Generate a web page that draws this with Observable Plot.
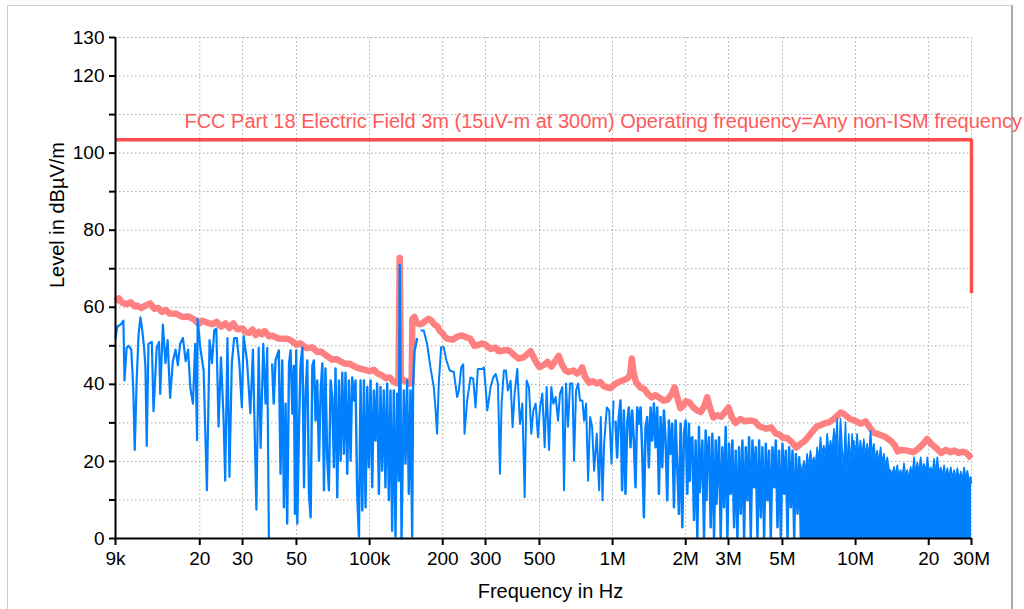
<!DOCTYPE html>
<html><head><meta charset="utf-8">
<script src="https://cdn.jsdelivr.net/npm/d3@7"></script>
<script src="https://cdn.jsdelivr.net/npm/@observablehq/plot@0.6"></script>
<style>
html,body{margin:0;padding:0;background:#fff;overflow:hidden;width:1024px;height:609px;}
#wrap{position:relative;width:1024px;height:609px;overflow:hidden;}
#frame{position:absolute;left:7px;top:5px;width:1003px;height:640px;border-left:1px solid #d0d0d0;border-top:1px solid #d0d0d0;border-right:2px solid #a8a8a8;}
#chart{position:absolute;left:0;top:0;}
</style></head>
<body><div id="wrap"><div id="frame"></div><div id="chart"></div></div>
<script>
// Frequencies in kHz, levels in dBµV/m
const xTickValues = [9, 20, 30, 50, 100, 200, 300, 500, 1000, 2000, 3000, 5000, 10000, 20000, 30000];
const xTickLabels = ["9k", "20", "30", "50", "100k", "200", "300", "500", "1M", "2M", "3M", "5M", "10M", "20", "30M"];
const yTickValues = [0, 10, 20, 30, 40, 50, 60, 70, 80, 90, 100, 110, 120, 130];
const yTickLabelled = [0, 20, 40, 60, 80, 100, 120, 130];

const limitTitle = "FCC Part 18 Electric Field 3m (15uV-m at 300m) Operating frequency=Any non-ISM frequency";
const limitFreq = [9, 30000, 30000];
const limitLevel = [103.5, 103.5, 63.7];

// Peak (max-hold) trace
const peakTrace = [
[9,61.5],[9.3,62.3],[9.6,61.2],[10,60.8],[10.4,61.3],[10.8,60.2],[11.1,60.4],[11.5,59.8],[12,60.5],[12.5,61.0],
[13,59.6],[13.5,59.8],[14,58.8],[14.5,59.3],[15,58.4],[16,58.3],[17,57.5],[18,57.6],[19,56.8],[19.8,55.7],
[20.5,56.5],[21.5,56],[22.5,55.6],[23.5,56.2],[24.5,55],[25.5,55.8],[26.5,54.6],[27.5,55.8],[28.5,54.3],[30,54.5],
[31,53.5],[32,53.4],[33,54.2],[34,52.8],[35,53.6],[36,53],[37,53.8],[38.5,52.5],[40,52.6],[42,51.9],
[44,51.8],[46,51.8],[48,51.2],[50,50.3],[52,50.6],[55,49.4],[58,49.6],[61,48.4],[63,48.5],[66,47.6],
[70,46.4],[73,46.6],[76,45.9],[79,45.4],[83,45.3],[87,44.6],[90,44.2],[95,43.8],[100,43.4],[104,43.8],
[108,42.8],[112,42.4],[117,41.6],[121,41.8],[125,40.8],[129,40.3],[131.5,40.5],[133,72.8],[134.5,41.5],[138,41],
[142,40.8],[146,40.2],[149,40.5],[150,57],[153,57.5],[156,56],[160,55.6],[165,55.8],[170,56.5],[175,57],
[180,56.5],[185,55.5],[190,55],[195,53.8],[200,53.2],[205,52.2],[210,51.8],[220,51.6],[230,52.4],[240,52.7],
[250,52.2],[260,51.8],[270,50],[280,50.2],[290,50.6],[300,50.3],[315,49.2],[330,49.5],[340,48.6],[355,48.8],
[370,48.9],[380,48.5],[395,47.5],[410,46.7],[430,47],[445,47.8],[460,48.6],[475,46.8],[490,45.2],[500,44.5],
[520,45],[540,45.8],[560,44.6],[580,46],[600,47.4],[620,45],[640,43.6],[660,43.2],[690,43.6],[715,42.8],
[735,43.4],[750,44.4],[770,42],[800,40.4],[830,40.8],[860,40.2],[890,40.6],[920,39.5],[950,39.2],[980,39],
[1020,40],[1060,40.6],[1100,41],[1150,41.5],[1180,42.4],[1200,46.7],[1220,43],[1250,40.5],[1300,39.2],[1350,38.8],
[1400,37.4],[1450,36.6],[1500,37.2],[1560,36.5],[1620,35.8],[1680,36],[1740,37.2],[1800,39.2],[1850,36.5],[1900,33.8],
[1960,34.6],[2000,35.6],[2070,35.3],[2150,34],[2230,33.2],[2300,32.8],[2380,34.2],[2450,36.6],[2520,33.8],[2600,31.4],
[2700,32],[2800,31.6],[2900,32.8],[3000,34],[3100,31.4],[3200,30],[3350,31],[3500,30.4],[3700,30.6],[3850,30.4],
[4000,29.2],[4150,28.8],[4300,28.5],[4500,28.8],[4700,27.2],[4850,27],[5000,26.2],[5250,26],[5500,24.8],[5700,23.6],
[5900,24.4],[6200,25.4],[6500,27],[6900,29],[7400,29.8],[7800,30.2],[8200,31.2],[8700,32.7],[9000,32.2],[9500,31],
[10000,30.5],[10500,29.8],[11000,30.4],[11500,28.6],[11900,27.4],[12500,27],[13200,26.4],[13900,25.4],[14500,24.2],[14900,22.6],
[15500,23],[16300,22.8],[17300,22.4],[18200,23.4],[19000,24.6],[19700,25.8],[20500,24.5],[21700,23.2],[22500,22.2],[23500,23],
[24500,22.4],[25500,22.8],[26500,22.2],[27500,22.5],[28600,22.2],[29500,21.2],[30000,20.8]
];

// Measured trace, 9 kHz - 38.5 kHz
const blueBand1 = [
[9.0,52],[9.15,55],[9.45,55.5],[9.7,56.5],[9.8,41],[10.0,49.5],[10.2,50],[10.45,49],[10.65,39],[10.8,23],
[11.0,41],[11.2,53],[11.4,57.4],[11.6,54],[11.8,49.5],[11.95,44.5],[12.1,24],[12.3,50.5],[12.7,51],[12.9,33],
[13.3,49.5],[13.6,51],[13.75,37.5],[14.1,55.5],[14.45,45.5],[14.75,51.5],[15.1,36.5],[15.5,46],[15.9,49],[16.25,45],
[16.6,50.5],[17.05,52],[17.5,46],[17.9,49],[18.3,39],[18.75,35],[19.15,50.5],[19.5,25.5],[19.6,57],[20.1,49.5],
[20.75,43.5],[21.4,12.5],[21.95,51.5],[22.45,45.5],[22.95,54],[23.4,54.5],[23.9,29],[24.45,47],[25.05,31.5],[25.45,15],
[26.0,52],[26.5,16],[27.1,45.5],[27.7,52],[28.4,52],[29.1,45.5],[29.8,34],[30.3,52.5],[31.3,46],[32.3,32.5],
[33.1,49],[34.2,7.5],[34.95,49.5],[35.6,23.5],[36.5,50.5],[37.3,35],[37.9,49.5],[38.5,0]
];
// 38.5 kHz - 161 kHz
const blueBand2 = [
[39.7,45.4],[40.3,35],[41.0,46.2],[42.3,48.8],[43.0,16.8],[43.7,46.2],[44.4,8.1],[45.1,35],[45.8,3.9],[46.6,45.4],
[47.3,48.8],[48.1,32.4],[48.8,44.8],[49.3,6.4],[49.9,48.8],[50.4,3.9],[51.2,28.9],[52.0,45.4],[52.9,49.6],[53.7,13.3],
[54.5,37.6],[55.4,46.2],[56.3,11.6],[57.2,5.5],[58.1,44.8],[59.0,46.2],[59.9,30.6],[60.9,41],[61.9,20.2],[62.9,38.4],
[63.9,45.4],[64.9,12.5],[65.8,44.1],[66.9,21.1],[68.0,12.5],[69.1,41],[70.2,36.7],[71.3,18.5],[72.4,44.1],[73.6,10.7],
[74.8,41],[76.0,20.2],[77.2,43],[78.4,22],[79.6,43],[80.9,16.8],[82.2,41],[83.5,20.2],[84.8,41.8],[86.2,35.8],
[87.5,41],[88.9,11.6],[90.4,0.5],[91.8,41],[93.3,7.3],[94.8,41],[96.2,8.1],[97.8,39.3],[99.3,18.5],[100.9,41],
[102.5,13.3],[104.1,38.4],[105.7,25.4],[107.4,40.2],[109.2,11.6],[110.9,39.3],[112.6,17.6],[114.4,38.4],[116.2,13.3],[118.1,40.2],
[120.0,10],[121.9,38.4],[123.8,2],[125.8,38.4],[127.8,0.5],[129.8,37.6],[131.9,15],[133.1,71],[135.3,0],[138.3,38.4],
[140.5,19.4],[142.7,41],[145.0,11.6],[147.3,38.4],[149.7,0.5],[151,40],[153,48.5],[157,52]
];
// 161 kHz - 1.01 MHz
const blueBand3 = [
[161.9,54],[167.1,54],[172.3,50.6],[178.0,44.4],[183.7,39.3],[186.6,34],[189.6,27.2],[192.6,40.2],[196.9,49.6],[201.9,49.6],
[207.1,46.2],[213.8,43.6],[222.1,43.2],[229.3,36.7],[233.0,38.4],[238.2,44.4],[242.8,45.2],[245.8,27.2],[252.1,35.8],[260.2,41.8],
[266.9,41.5],[272.9,34],[279.0,44],[290.8,44],[295.4,44.4],[300.2,39.3],[305.0,33.2],[314.8,39.3],[322.9,41.8],[330.1,42.7],
[337.5,40.2],[343.9,16.8],[349.4,35],[356.9,43.6],[363.8,43.6],[370.8,38.4],[380.4,40.9],[387.7,28.9],[395.2,37.6],[405.3,44],
[415.8,29.7],[425.1,35],[434.6,10.7],[442.9,41],[452.8,39.3],[462.9,27.2],[471.8,33.2],[482.4,35],[493.2,26.3],[502.6,34],
[513.9,37.6],[525.4,23.7],[535.4,39.3],[547.5,23],[559.7,39.3],[570.4,35],[583.2,36.7],[596.2,30.6],[607.6,37.6],[621.2,39.3],
[631.1,12.5],[643.2,40.2],[655.6,29],[668.2,40.2],[683.2,40.2],[694.0,20.2],[707.4,38.4],[721.0,40.2],[734.9,35.8],[751.3,35.8],
[763.3,30.6],[777.9,35],[792.9,15],[808.2,31.5],[823.6,29],[839.5,17.6],[861.0,27.2],[880.4,12.5],[894.4,31.5],[908.7,9.9],
[923.1,24.6],[946.8,34],[968.1,33.2],[989.8,19.4],[1009,35.8]
];
// 1.03 MHz - 5.95 MHz
const blueBand4 = [
[1027.7,30.6],[1044,21],[1060.8,31.5],[1077.7,35.8],[1094.9,12.5],[1112.4,33.2],[1130.1,11.6],[1148.2,29.8],[1166.5,34],[1185.1,23.7],[1204.0,33.2],
[1223.2,25.4],[1242.7,13.3],[1262.6,34],[1282.7,29.8],[1303.2,34],[1324.0,22.8],[1345.1,5.5],[1366.6,28.9],[1388.4,31.5],[1410.5,18.5],
[1433.0,34],[1455.9,25.4],[1479.1,35],[1502.7,23.7],[1526.7,34],[1551.1,11.6],[1575.8,31.5],[1601.0,18.5],[1626.5,33.2],[1652.5,25.4],
[1678.8,9.9],[1705.6,30.6],[1732.9,22],[1760.5,29.8],[1788.6,8.1],[1817.1,30.6],[1846.1,18.5],[1875.5,6.4],[1905.4,29.8],[1935.8,2.9],
[1966.7,27.2],[1998.1,30.6],[2030.0,11.6],[2062.4,29.8],[2080,15],[2095.3,25.4],[2128.7,26.3],[2162.7,4.8],[2197.2,25.4],[2232.2,0.3],[2267.8,28.9],
[2285,12],[2304.0,16.8],[2340.8,25.4],[2378.1,0.3],[2416.0,28],[2435,10],[2454.6,21.1],[2493.7,26.3],[2533.5,2.9],[2573.9,27.2],[2615.0,0.3],[2656.7,25.4],
[2678,9],[2699.1,15],[2742.1,26.3],[2785.9,0.3],[2830.3,23.7],[2875.5,8.1],[2921.3,28.9],[2967.9,0.3],[3015.3,24.6],[3040,14],[3063.4,11.6],[3112.2,25.4],
[3161.9,2.9],[3212.3,22.8],[3263.5,0.3],[3315.6,23.7],[3368.5,6.4],[3422.2,25.4],[3476.8,0.3],[3532.3,23.7],[3588.6,9.9],[3645.9,26.3],
[3704.0,0.3],[3763.1,25.4],[3823.1,13.3],[3884.1,23.7],[3946.1,0.3],[4009.0,25.4],[4073.0,5.5],[4138.0,23.7],[4204.0,0.3],[4271.0,24.6],
[4339.2,9.9],[4408.4,22.8],[4478.7,0.3],[4550.1,23.7],[4622.7,13.3],[4696.5,25.4],[4771.4,2.9],[4847.5,22.8],[4924.8,0.3],[5003.4,24.6],
[5083.2,11.6],[5164.3,22.8],[5246.6,0.3],[5330.3,23.7],[5415.3,8.1],[5501.7,22.8],[5589.5,0.3],[5678.6,21.9],[5769.2,6.4],[5861.2,21.1],
[5954.7,0.3]
];
// 5.93 MHz - 30 MHz: trace so dense it fills down to 0; upper envelope
const blueBand5 = [
[5931,19.4],[6030,16.5],[6122,20.2],[6220,17],[6319,22],[6420,18.5],[6523,22.8],[6630,19],[6733,21.1],[6840,18.8],
[6950,23.7],[7060,20],[7174,26.3],[7290,21.5],[7405,24.1],[7520,21],[7644,27.2],[7770,22],[7890,25.4],[8020,22.5],
[8144,28.5],[8270,24],[8404,31.1],[8470,24],[8537,17.6],[8600,25],[8672,31.1],[8800,24],[8949,17.6],[9020,24],
[9093,30.2],[9160,23],[9235,17.6],[9310,23],[9382,27.2],[9450,22],[9530,20.2],[9600,23],[9681,27.2],[9760,22],
[9834,25.4],[9990,21],[10149,27.2],[10310,21.5],[10474,25.4],[10640,21],[10810,25.8],[10990,21.5],[11169,24.6],[11350,21],
[11529,28],[11710,21.5],[11900,24.6],[12090,20.5],[12283,22.8],[12480,19.5],[12679,23.7],[12880,19.5],[13087,22],[13300,18.5],
[13509,21.1],[13720,18],[13944,17.6],[14170,16.5],[14393,18.6],[14620,16.5],[14857,19],[15090,16],[15328,17.8],[15570,15.5],
[15822,19.5],[16080,16],[16332,17.8],[16590,15.5],[16858,18.6],[17130,16],[17401,21.1],[17680,17],[17961,19.7],[18250,17],
[18540,21.1],[18840,17.5],[19137,19.4],[19440,17],[19753,21.1],[20070,17],[20389,18.5],[20710,16.5],[21037,20.7],[21370,17],
[21715,21.1],[22060,16.5],[22414,18.5],[22770,16],[23136,19],[23500,16],[23881,18.2],[24260,15.5],[24650,18.5],[25040,15.5],
[25444,17.8],[25850,15.5],[26263,18.2],[26680,15],[27109,17.4],[27540,15],[27982,18.5],[28420,15.5],[28867,17.6],[29330,15],
[29797,16],[30000,14.2]
];

const C = {peak: "#ff8080", meas: "#0080ff", limit: "#ff4c4c", text: "#ff5a5a", grid: "#a8a8a8"};
const lineOpts = (stroke, w) => ({x: d => d[0], y: d => d[1], stroke, strokeWidth: w, strokeLinejoin: "round", strokeLinecap: "butt"});

const limitRows = limitFreq.map((f, i) => [f, limitLevel[i]]);

const chart = Plot.plot({
  width: 1024,
  height: 609,
  marginLeft: 115,
  marginRight: 53,
  marginTop: 37,
  marginBottom: 71,
  x: {type: "log", domain: [9, 30000]},
  y: {domain: [0, 130]},
  style: {fontFamily: "'Liberation Sans', Arial, sans-serif", background: "transparent", overflow: "visible", color: "#000"},
  marks: [
    Plot.gridX(xTickValues.slice(1), {stroke: C.grid, strokeOpacity: 1, strokeWidth: 1, strokeDasharray: "1.5,2.5"}),
    Plot.gridY(yTickValues.slice(1), {stroke: C.grid, strokeOpacity: 1, strokeWidth: 1, strokeDasharray: "1.5,2.5"}),
    Plot.line(peakTrace, lineOpts(C.peak, 6.5)),
    Plot.line(limitRows, {...lineOpts(C.limit, 3.5), strokeLinejoin: "miter"}),
    Plot.areaY(blueBand5, {x: d => d[0], y1: 0, y2: d => d[1], fill: C.meas}),
    Plot.line(blueBand5, lineOpts(C.meas, 1.5)),
    Plot.line(blueBand1, lineOpts(C.meas, 2.2)),
    Plot.line(blueBand2, lineOpts(C.meas, 2.4)),
    Plot.line(blueBand3, lineOpts(C.meas, 2)),
    Plot.line(blueBand4, lineOpts(C.meas, 2.5)),
    Plot.text([limitTitle], {x: 17.3, y: 108.3, text: d => d, textAnchor: "start", fill: C.text, fontSize: 20}),
    Plot.ruleX([9], {stroke: "#000", strokeWidth: 2}),
    Plot.ruleY([0], {stroke: "#000", strokeWidth: 2}),
    Plot.axisX(xTickValues, {tickFormat: () => "", tickSize: 7, strokeWidth: 2, label: null}),
    Plot.text(xTickValues, {x: d => d, text: (d, i) => xTickLabels[i], frameAnchor: "bottom", dy: 26, fontSize: 19, fill: "#000"}),
    Plot.axisY(yTickValues, {tickFormat: d => yTickLabelled.includes(d) ? String(d) : "", tickSize: 6, tickPadding: 5, strokeWidth: 2, fontSize: 19, label: null}),
    Plot.text(["Frequency in Hz"], {frameAnchor: "bottom", dx: 7, dy: 59, fontSize: 20, text: d => d}),
    Plot.text(["Level in dBµV/m"], {frameAnchor: "left", dx: -58, rotate: -90, fontSize: 20, text: d => d})
  ]
});
document.getElementById("chart").appendChild(chart);
</script>
</body></html>
